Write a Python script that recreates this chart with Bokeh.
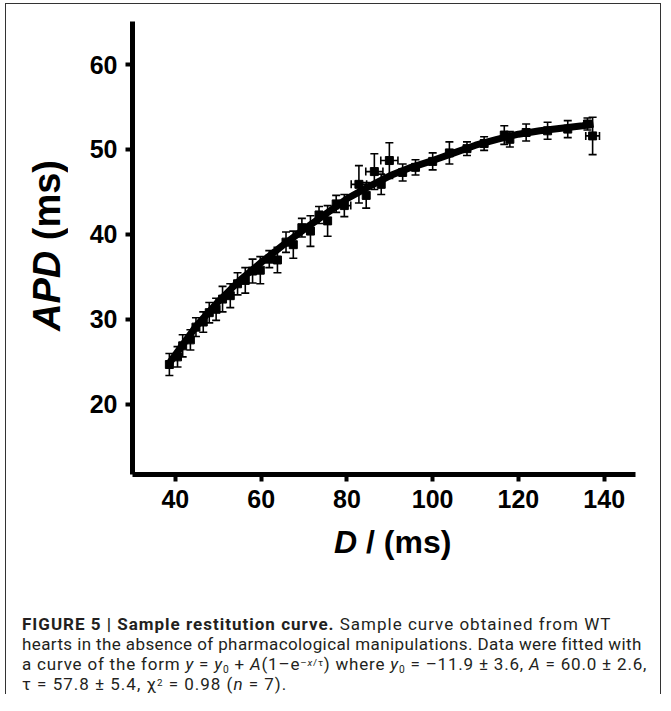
from bokeh.plotting import figure
from bokeh.models import Range1d, FixedTicker, Div, Whisker, TeeHead, ColumnDataSource
from bokeh.layouts import column, row
from bokeh.embed import file_html
from bokeh.resources import INLINE

# ---- data ----
d_ms = [38.6, 40.5, 41.7, 43.5, 44.8, 46.5, 47.9, 49.5, 51.0, 52.8, 54.5, 56.3, 58.0, 59.8,
        61.9, 63.8, 65.8, 67.5, 69.5, 71.5, 73.5, 75.5, 77.5, 79.4, 82.8, 84.5, 86.4, 88.0,
        89.9, 93.0, 96.0, 100.0, 103.9, 108.0, 112.0, 116.7, 118.0, 121.8, 126.8, 131.5,
        136.1, 137.3]
apd_ms = [24.7, 25.6, 26.9, 27.6, 29.1, 29.7, 30.8, 31.2, 32.4, 32.8, 34.2, 34.6, 35.7, 35.8,
          37.1, 37.0, 39.1, 38.8, 40.8, 40.4, 42.3, 41.6, 43.6, 43.4, 45.9, 44.6, 47.4, 45.9,
          48.7, 47.3, 47.9, 48.6, 49.6, 50.1, 50.7, 51.7, 51.2, 52.0, 52.2, 52.4,
          53.0, 51.6]
apd_err = [1.3, 1.2, 1.3, 1.2, 1.1, 1.2, 1.2, 1.3, 1.5, 1.4, 1.3, 1.5, 1.4, 1.6,
           1.0, 1.5, 1.2, 1.6, 1.1, 1.8, 1.0, 1.8, 1.0, 1.3, 2.2, 1.5, 2.1, 1.2,
           2.1, 1.0, 0.9, 1.0, 1.3, 0.8, 0.8, 1.1, 0.9, 1.0, 1.0, 1.0,
           0.7, 2.2]

# points that also carry horizontal error bars
dx_d = [79.4, 82.8, 86.4, 89.9, 137.3]
dx_apd = [43.4, 45.9, 47.4, 48.7, 51.6]
dx_err = [1.5, 1.8, 2.0, 2.0, 1.6]

# fitted restitution curve
fit_d = [38.5, 45, 50, 55, 60, 65, 70, 75, 80, 85, 90, 95, 100, 105, 110, 115, 120, 125,
         130, 135, 137.5]
fit_apd = [24.8, 29.3, 32.1, 34.6, 36.7, 38.7, 40.6, 42.4, 44.2, 45.6, 46.9, 47.9, 48.7,
           49.6, 50.5, 51.2, 51.8, 52.2, 52.5, 52.8, 53.0]

x_ticks = [40, 60, 80, 100, 120, 140]
y_ticks = [20, 30, 40, 50, 60]

x_title = "<i>D</i> / (ms)"
y_title = "<i>APD</i> (ms)"

SUB = '<sub style="font-size:60%;line-height:0;vertical-align:-0.25em">'
SUP = '<sup style="font-size:58%;line-height:0;vertical-align:0.4em">'
caption_lines = [
    "<b>FIGURE 5 | Sample restitution curve.</b> Sample curve obtained from WT",
    "hearts in the absence of pharmacological manipulations. Data were fitted with",
    "a curve of the form <i>y</i> = <i>y</i>" + SUB + "0</sub> + <i>A</i>(1&ndash;e" + SUP
    + "&ndash;<i>x</i>/&tau;</sup>) where <i>y</i>" + SUB
    + "0</sub> = &ndash;11.9 &plusmn; 3.6, <i>A</i> = 60.0 &plusmn; 2.6,",
    "&tau; = 57.8 &plusmn; 5.4, &chi;" + SUP + "2</sup> = 0.98 (<i>n</i> = 7).",
]
caption_spacing = ["1.0px", "0.4px", "0.8px", "1.0px"]

FONT = "Liberation Sans"

src = ColumnDataSource(dict(
    d=d_ms, apd=apd_ms,
    up=[a + e for a, e in zip(apd_ms, apd_err)],
    lo=[a - e for a, e in zip(apd_ms, apd_err)],
))
srcx = ColumnDataSource(dict(
    d=dx_d, apd=dx_apd,
    up=[a + e for a, e in zip(dx_d, dx_err)],
    lo=[a - e for a, e in zip(dx_d, dx_err)],
))

p = figure(width=574, height=516, output_backend="svg", toolbar_location=None,
           x_range=Range1d(30, 147.3), y_range=Range1d(11.76, 65.06),
           min_border_left=45, min_border_right=25, min_border_top=17, min_border_bottom=46,
           margin=0)
p.outline_line_color = None
p.xgrid.visible = False
p.ygrid.visible = False
p.background_fill_color = "white"
p.border_fill_color = "white"

for ax in (p.xaxis[0], p.yaxis[0]):
    ax.axis_line_width = 5
    ax.axis_line_color = "black"
    ax.major_tick_line_width = 4
    ax.major_tick_line_color = "black"
    ax.major_tick_in = 0
    ax.major_tick_out = 7
    ax.minor_tick_line_color = None
    ax.major_label_text_font = FONT
    ax.major_label_text_font_style = "bold"
    ax.major_label_text_font_size = "25px"
    ax.major_label_text_color = "black"
    ax.major_label_standoff = 8
p.xaxis.ticker = FixedTicker(ticks=x_ticks)
p.yaxis.ticker = FixedTicker(ticks=y_ticks)

head = dict(size=8, line_width=1.6, line_color="black")
wv = Whisker(source=src, base="d", upper="up", lower="lo", dimension="height",
             line_width=1.6, line_color="black", level="underlay",
             upper_head=TeeHead(**head), lower_head=TeeHead(**head))
wh = Whisker(source=srcx, base="apd", upper="up", lower="lo", dimension="width",
             line_width=1.6, line_color="black", level="underlay",
             upper_head=TeeHead(**head), lower_head=TeeHead(**head))
p.add_layout(wv)
p.add_layout(wh)

p.scatter("d", "apd", source=src, marker="square", size=8, color="black")
p.line(fit_d, fit_apd, line_width=7, color="black")

ylab = Div(text=('<div style="writing-mode:vertical-rl;transform:rotate(180deg);'
                 'width:46px;height:433px;margin-left:18px;margin-top:25px;'
                 'line-height:46px;text-align:center;white-space:nowrap;color:#000;'
                 'font-family:\'Liberation Sans\',Arial,sans-serif;font-weight:bold;'
                 'font-size:38px;">' + y_title + '</div>'),
           width=80, height=516, margin=0)

xlab = Div(text=('<div style="padding-left:328px;padding-top:4px;line-height:36px;'
                 'white-space:nowrap;color:#000;font-family:\'Liberation Sans\',Arial,sans-serif;'
                 'font-weight:bold;font-size:32px;">' + x_title + '</div>'),
           width=654, height=50, margin=0)

cap_html = "".join('<div style="letter-spacing:%s;height:20px;">%s</div>' % (s, t)
                   for s, t in zip(caption_spacing, caption_lines))
cap = Div(text=('<div style="font-family:Roboto,\'Liberation Sans\',sans-serif;font-size:17px;'
                'line-height:20px;color:#231f20;white-space:nowrap;">' + cap_html + "</div>"),
          width=636, height=80, margin=(44, 0, 0, 16))

layout = column(row(ylab, p, spacing=0, margin=0), xlab, cap, margin=(3, 0, 0, 5), spacing=0,
                styles={"border-top": "1px solid #333", "border-left": "1px solid #333",
                        "border-right": "1px solid #333", "background-color": "white"})

open("out.html", "w").write(file_html(layout, INLINE))
